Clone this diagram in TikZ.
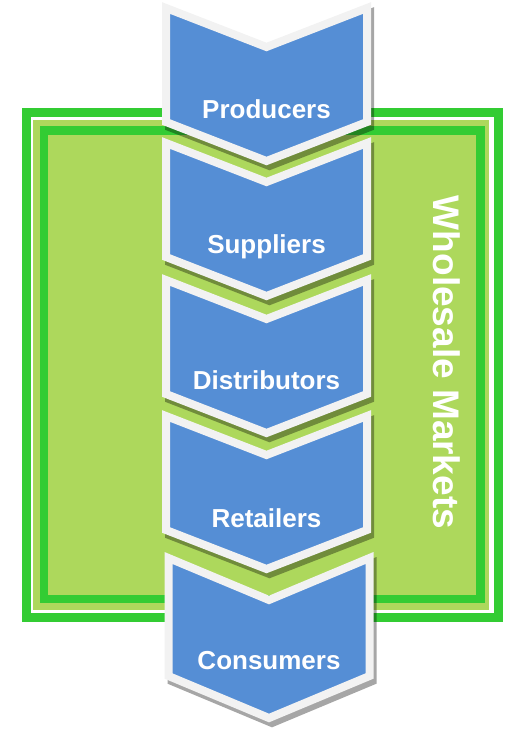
\documentclass[tikz,border=0pt]{standalone}
\usepackage{fontspec}
\setmainfont{Liberation Sans}
\definecolor{vert}{RGB}{51,204,51}
\definecolor{vertclair}{RGB}{173,216,92}
\definecolor{bleu}{RGB}{85,142,213}
\definecolor{blanc}{RGB}{242,242,242}
\tikzset{chevron/.style={fill=bleu,draw=blanc,line width=8pt,line join=miter},
  ombre/.style={fill=black,draw=black,line width=8pt,line join=miter},
  etiquette/.style={anchor=base,inner sep=0pt,text=white,font=\bfseries\fontsize{26}{30}\selectfont}}

\begin{document}
\begin{tikzpicture}[x=1pt,y=-1pt]
\useasboundingbox (0,0) rectangle (504,731);
\draw [vert,line width=9pt] (26.5,112.5) rectangle (498.5,617.5);
\fill [vertclair] (33,120) rectangle (489,610);
\draw [vert,line width=8.5pt] (44,130.5) rectangle (480.5,599);
\node [anchor=base,inner sep=0pt,rotate=-90,text=white,font=\bfseries\fontsize{37}{40}\selectfont] (marches) at (433,362.5) {Wholesale Markets};
\foreach \yt/\dx/\h/\d/\nom/\txt/\yb in {2/0/123/39/prod/Producers/118,137/0/123/39/supp/Suppliers/253,274/0/123/39/dist/Distributors/389,410/0/123/39/ret/Retailers/527,552/2.5/127/42/cons/Consumers/669}
{
\begin{scope}[xshift=\dx pt]
\begin{scope}[transparency group,opacity=0.35,shift={(3,5)}]
\draw [ombre] (166,\yt+6) -- (266.5,\yt+6+\d) -- (367,\yt+6) -- (367,\yt+\h-3) -- (266.5,\yt+\h-3+\d) -- (166,\yt+\h-3) -- cycle;
\end{scope}
\draw [chevron] (166,\yt+6) -- (266.5,\yt+6+\d) -- (367,\yt+6) -- (367,\yt+\h-3) -- (266.5,\yt+\h-3+\d) -- (166,\yt+\h-3) -- cycle;
\node [etiquette] (\nom) at (266.5,\yb) {\txt};
\end{scope}
}
\end{tikzpicture}
\end{document}
